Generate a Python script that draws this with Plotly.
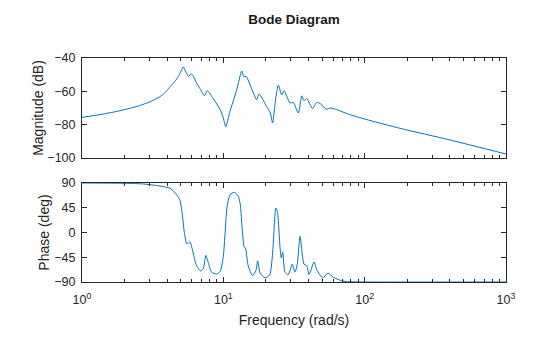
import plotly.graph_objects as go

# Frequency (rad/s) and magnitude (dB)
mag_freq = [1.0, 1.25, 1.5, 1.75, 2.07, 2.25, 2.5, 2.75, 3.03, 3.25, 3.56, 3.75, 3.98, 4.2,
            4.55, 4.8, 5.0, 5.2, 5.45, 5.65, 5.97, 6.47, 6.9, 7.34, 7.70, 8.49, 9.49, 10.0,
            10.4, 11.1, 12.4, 13.5, 14.0, 14.5, 15.9, 17.2, 17.9, 20.2, 21.5, 22.3, 23.5,
            24.5, 25.9, 26.9, 29.6, 31.2, 33.9, 35.9, 37.2, 38.9, 42.8, 45.8, 48.9, 53.3,
            57.4, 63.4, 78.5, 101.8, 178, 402, 1000]
mag_db = [-75.6, -74.4, -73.2, -72.1, -70.7, -69.9, -68.8, -67.6, -66.3, -65.0, -63.2,
          -61.8, -59.6, -57.2, -54.0, -51.0, -48.3, -45.4, -48.5, -51.0, -49.6, -55.0,
          -59.0, -62.6, -59.6, -64.4, -71.0, -76.0, -81.3, -72.5, -59.5, -47.8, -51.3,
          -51.0, -58.6, -65.0, -61.6, -69.0, -73.0, -79.0, -64.0, -56.3, -62.2, -59.6,
          -67.0, -66.6, -73.0, -62.7, -65.6, -64.4, -70.3, -66.6, -67.6, -70.7, -70.0,
          -71.0, -74.0, -76.8, -82.2, -89.2, -97.6]

# Frequency (rad/s) and phase (deg)
ph_freq = [1.0, 2.0, 2.72, 3.56, 4.19, 4.67, 4.94, 5.1, 5.3, 5.5, 5.65, 5.81, 6.05, 6.41,
           6.9, 7.2, 7.53, 7.83, 8.25, 8.98, 9.49, 9.98, 10.3, 10.6, 11.15, 11.96, 12.75,
           13.2, 13.5, 14.0, 14.4, 15.0, 16.1, 17.0, 17.5, 18.2, 19.7, 21.3, 22.4, 23.5,
           24.1, 25.2, 25.7, 26.3, 27.3, 28.8, 30.7, 32.1, 33.3, 34.9, 36.3, 37.3, 38.9,
           40.4, 43.9, 45.8, 50.5, 55.0, 60.0, 68.6, 76.0, 100, 1000]
ph_deg = [90, 89.5, 88.2, 84.5, 80.5, 69, 58, 37, 0, -20, -19.5, -17, -32, -58,
          -70, -66, -41.5, -55, -72, -75.5, -71, -45, 0, 44.5, 68.8, 73, 66,
          50, 17, -25, -30, -61, -78.5, -69, -51.5, -73.6, -82.5, -77, -31, 44.5,
          38.5, -28, -46, -36, -72, -77, -57.5, -72, -59, -7, -43, -58, -60,
          -76.5, -53.6, -67.6, -82.7, -73.6, -81.5, -87.6, -89.5, -90, -90]

x_tickvals = [1, 10, 100, 1000]
x_ticktext = ["10<sup>0</sup>", "10<sup>1</sup>", "10<sup>2</sup>", "10<sup>3</sup>"]
x_minor_tickvals = [m * d for d in (1, 10, 100) for m in range(2, 10)]
mag_tickvals = [-100, -80, -60, -40]
ph_tickvals = [-90, -45, 0, 45, 90]

LINE = "#0072BD"
AX = "#262626"
FONT = "Liberation Sans, Arial, sans-serif"
TICKSIZE = 12.5
LABSIZE = 14

fig = go.Figure()
fig.add_trace(go.Scatter(x=mag_freq, y=mag_db, mode="lines",
                         line=dict(color=LINE, width=1, shape="spline", smoothing=0.6),
                         xaxis="x", yaxis="y", showlegend=False))
fig.add_trace(go.Scatter(x=ph_freq, y=ph_deg, mode="lines",
                         line=dict(color=LINE, width=1, shape="spline", smoothing=0.6),
                         xaxis="x2", yaxis="y2", showlegend=False))

common_x = dict(type="log", range=[0, 3], showline=True, linecolor=AX, linewidth=1,
                mirror="allticks", ticks="inside", ticklen=5, tickcolor=AX,
                tickmode="array", tickvals=x_tickvals, ticktext=x_ticktext,
                showgrid=False, zeroline=False,
                minor=dict(ticks="inside", ticklen=3, tickcolor=AX, showgrid=False,
                           tickmode="array", tickvals=x_minor_tickvals),
                tickfont=dict(size=TICKSIZE, color=AX, family=FONT))
common_y = dict(showline=True, linecolor=AX, linewidth=1, mirror="allticks",
                ticks="inside", ticklen=5, tickcolor=AX, showgrid=False, zeroline=False,
                ticklabelstandoff=3,
                tickfont=dict(size=TICKSIZE, color=AX, family=FONT))

fig.update_layout(
    width=560, height=337,
    margin=dict(l=82, r=54, t=58, b=55),
    paper_bgcolor="white", plot_bgcolor="white",
    font=dict(family=FONT, color=AX),
    title=dict(text="<b>Bode Diagram</b>", x=0.525, xanchor="center", y=0.944, yanchor="middle",
               font=dict(size=13.5, color="#1a1a1a", family=FONT)),
    xaxis=dict(common_x, anchor="y", showticklabels=False, matches="x2"),
    yaxis=dict(common_y, domain=[0.5536, 1.0], range=[-100, -40],
               tickmode="array", tickvals=mag_tickvals,
               title=dict(text="Magnitude (dB)", font=dict(size=LABSIZE, color=AX, family=FONT), standoff=0)),
    xaxis2=dict(common_x, anchor="y2", ticklabelstandoff=6,
                title=dict(text="Frequency (rad/s)", font=dict(size=LABSIZE, color=AX, family=FONT), standoff=9)),
    yaxis2=dict(common_y, domain=[0.0, 0.442], range=[-90, 90],
                tickmode="array", tickvals=ph_tickvals,
                title=dict(text="Phase (deg)", font=dict(size=LABSIZE, color=AX, family=FONT), standoff=1)),
)

fig.write_html("out.html")
